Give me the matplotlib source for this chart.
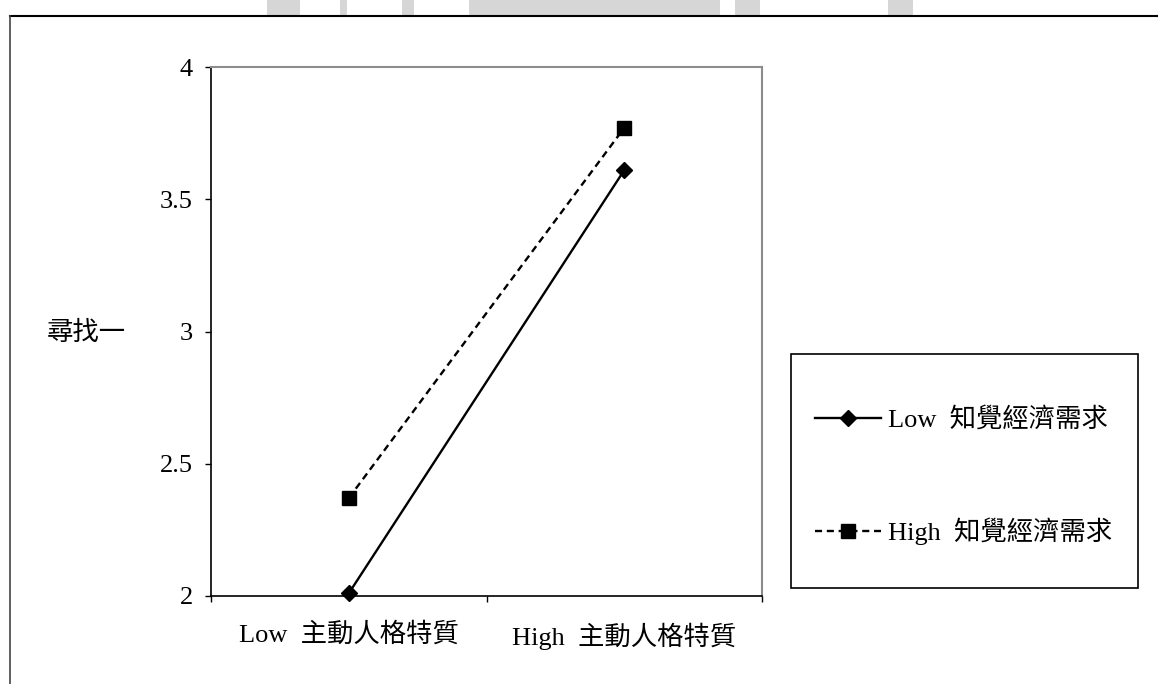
import numpy as np
import matplotlib
matplotlib.use('Agg')
from matplotlib import pyplot as plt
from matplotlib.patches import Rectangle

plt.rcParams['font.family'] = ['Liberation Serif', 'Noto Sans CJK TC']

# data
categories = ['Low  主動人格特質', 'High  主動人格特質']
low_need = [2.01, 3.61]
high_need = [2.37, 3.77]
series_names = ['Low  知覺經濟需求', 'High  知覺經濟需求']
y_ticks = [2, 2.5, 3, 3.5, 4]
y_tick_labels = ['2', '2.5', '3', '3.5', '4']
y_label = '尋找一'

W, H = 1158, 684
FS = 19
fig = plt.figure(figsize=(W / 100, H / 100), dpi=100)
ax = fig.add_axes([211 / W, 1 - 596 / H, 551 / W, 529 / H])

x = np.arange(len(categories)) + 0.5
ax.plot(x, low_need, color='black', lw=1.7, marker='D', ms=8.5, label=series_names[0], clip_on=False, zorder=3)
ax.plot(x, high_need, color='black', lw=1.7, ls=(0, (3, 2)), marker='s', ms=10, label=series_names[1], clip_on=False, zorder=3)

ax.set_xlim(0, len(categories))
ax.set_ylim(2, 4)
ax.set_yticks(y_ticks)
ax.set_yticklabels(y_tick_labels)
ax.set_xticks(x)
ax.set_xticklabels(categories)
ax.set_xticks(np.arange(len(categories) + 1), minor=True)
ax.tick_params(axis='x', which='major', length=0, pad=19, labelsize=FS)
ax.tick_params(axis='x', which='minor', length=4, direction='out', width=1)
ax.tick_params(axis='y', length=4, direction='out', width=1, pad=9, labelsize=FS)

for s in ['top', 'right']:
    ax.spines[s].set_color('#8c8c8c')
    ax.spines[s].set_linewidth(1.5)
ax.spines['left'].set_linewidth(1.2)
ax.spines['bottom'].set_linewidth(1.2)

fig.text(86 / W, 1 - 333 / H, y_label, fontsize=FS, ha='center', va='center')

# legend box
fig.add_artist(Rectangle((791 / W, 1 - 588 / H), 347 / W, 234 / H, transform=fig.transFigure,
                         fill=False, edgecolor='black', lw=1.2))
leg = fig.legend(loc='upper left', bbox_to_anchor=(815 / W, 1 - 407 / H), frameon=False,
                 fontsize=FS, handlelength=2.5, handletextpad=0.25, labelspacing=3.25,
                 borderpad=0, borderaxespad=0)

# outer border (top and left)
fig.add_artist(plt.Line2D([10 / W, 1], [1 - 16 / H, 1 - 16 / H], transform=fig.transFigure, color='black', lw=1.5))
fig.add_artist(plt.Line2D([10 / W, 10 / W], [0, 1 - 16 / H], transform=fig.transFigure, color='#444444', lw=1.2))

# faint watermark bits above the frame
for x0, x1 in [(267, 300), (340, 347), (402, 414), (469, 720), (735, 760), (888, 913)]:
    fig.add_artist(Rectangle((x0 / W, 1 - 15 / H), (x1 - x0) / W, 15 / H, transform=fig.transFigure,
                             facecolor='#d6d6d6', edgecolor='none', zorder=0))

fig.savefig('out.png', dpi=100)
